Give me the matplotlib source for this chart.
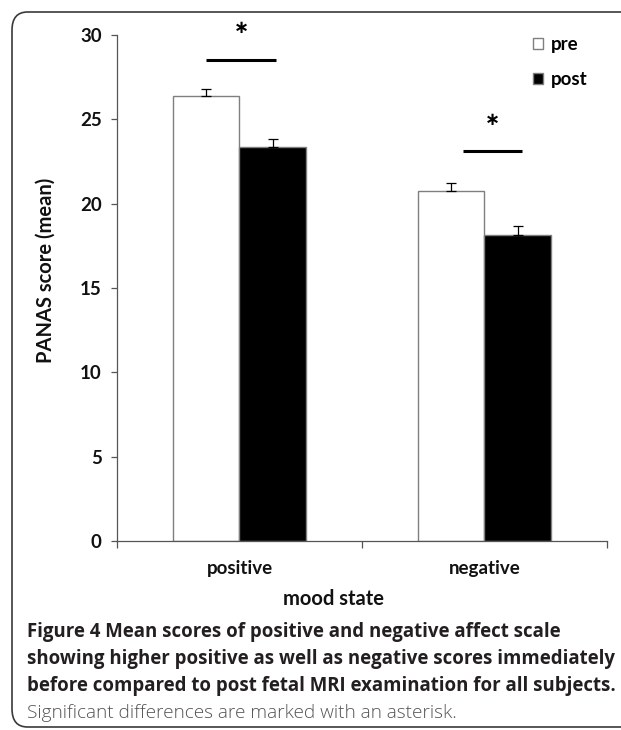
import matplotlib
matplotlib.use("Agg")
import matplotlib.pyplot as plt
from matplotlib.patches import FancyBboxPatch
import numpy as np

categories = ["positive", "negative"]
series_names = ["pre", "post"]
pre_means = [26.36, 20.77]
post_means = [23.37, 18.14]
pre_err = [0.41, 0.47]
post_err = [0.44, 0.53]
y_ticks = [0, 5, 10, 15, 20, 25, 30]
sig_y = [28.5, 23.15]
star_y = [30.4, 24.95]

caption_lines = [
    "Figure 4 Mean scores of positive and negative affect scale",
    "showing higher positive as well as negative scores immediately",
    "before compared to post fetal MRI examination for all subjects.",
]
caption_note = "Significant differences are marked with an asterisk."

W, H = 621, 730
fig = plt.figure(figsize=(W / 100, H / 100), dpi=100)
chart_font = "Lato"
cap_font = "Open Sans"

def fx(px):
    return px / W

def fy(py):
    return 1 - py / H

ax = fig.add_axes([fx(117), fy(541), fx(607) - fx(117), fy(35) - fy(541)])

x = np.arange(len(categories))
bw = 0.27
edge = "#7f7f7f"
ax.bar(x - bw / 2, pre_means, bw, color="white", edgecolor=edge, linewidth=1.0,
       label=series_names[0], zorder=2)
ax.bar(x + bw / 2, post_means, bw, color="black", edgecolor=edge, linewidth=1.0,
       label=series_names[1], zorder=2)
ax.errorbar(x - bw / 2, pre_means, yerr=[np.zeros(2), pre_err], fmt="none",
            ecolor="black", elinewidth=0.9, capsize=3.5, capthick=0.9, zorder=3)
ax.errorbar(x + bw / 2, post_means, yerr=[np.zeros(2), post_err], fmt="none",
            ecolor="black", elinewidth=0.9, capsize=3.5, capthick=0.9, zorder=3)

# significance markers
sig_x = [(-0.135, 0.150), (0.912, 1.155)]
for (x0, x1), yy, sy in zip(sig_x, sig_y, star_y):
    ax.plot([x0, x1], [yy, yy], color="black", lw=2.2, solid_capstyle="butt",
            clip_on=False)
    ax.text((x0 + x1) / 2, sy, "\u2217", ha="center", va="center", fontsize=13,
            fontweight="bold", family="DejaVu Sans", clip_on=False)

ax.set_xlim(-0.5, 1.5)
ax.set_ylim(0, 30)
ax.set_yticks(y_ticks)
ax.set_yticklabels([str(t) for t in y_ticks])
ax.set_xticks([-0.5, 0.5, 1.5])
ax.set_xticklabels([])
ax.set_xticks(x, minor=True)
ax.set_xticklabels(categories, minor=True)
ax.tick_params(axis="x", which="minor", length=0, pad=14)
ax.tick_params(axis="x", which="major", length=5, width=0.9, color="#555555",
               direction="out")
ax.tick_params(axis="y", length=4, width=0.9, color="#555555", direction="out", pad=7)
for lab in ax.get_xticklabels(minor=True) + ax.get_yticklabels():
    lab.set_fontfamily(chart_font)
    lab.set_fontweight("bold")
    lab.set_fontsize(13.5)
    lab.set_color("#111111")
for s in ["top", "right"]:
    ax.spines[s].set_visible(False)
for s in ["left", "bottom"]:
    ax.spines[s].set_color("#555555")
    ax.spines[s].set_linewidth(0.9)

fig.text(fx(46), fy(270), "PANAS score (mean)", rotation=90, ha="center",
         va="center", fontsize=14.5, fontweight="bold", family=chart_font,
         color="#111111")
fig.text(fx(333), fy(599), "mood state", ha="center", va="center", fontsize=14.5,
         fontweight="bold", family=chart_font, color="#111111")

leg = ax.legend(loc="upper left", bbox_to_anchor=(fx(533), fy(36)),
                bbox_transform=fig.transFigure, frameon=False,
                handlelength=0.55, handleheight=0.55, handletextpad=0.4,
                labelspacing=0.95, borderpad=0, borderaxespad=0,
                prop={"family": chart_font, "weight": "bold", "size": 13.5})

# caption (font size fitted so that lines span the reference widths)
renderer = fig.canvas.get_renderer()

def fitted_text(xp, yp, s, target_px, **kw):
    t = fig.text(fx(xp), fy(yp), s, ha="left", va="center", fontsize=12, **kw)
    w = t.get_window_extent(renderer).width
    t.set_fontsize(12 * target_px / w)
    return t.get_fontsize()

cap_y = [632, 659, 686]
fs = None
texts = []
for line, yy in zip(caption_lines, cap_y):
    t = fig.text(fx(27), fy(yy), line, ha="left", va="center", fontsize=12,
                 fontweight="bold", family=cap_font, color="#231f20")
    texts.append(t)
w2 = texts[1].get_window_extent(renderer).width
fs = 12 * 586 / w2
for t in texts:
    t.set_fontsize(fs)
fitted_text(27, 713, caption_note, 430, family=cap_font, color="#555555",
            fontweight="light")

# rounded frame
box = FancyBboxPatch((fx(12), fy(727)), fx(700) - fx(12), fy(12) - fy(727),
                     boxstyle="round,pad=0,rounding_size=0.025",
                     transform=fig.transFigure, facecolor="none",
                     edgecolor="#3a3a3a", linewidth=1.2, clip_on=False)
fig.patches.append(box)

fig.savefig("out.png", dpi=100)
